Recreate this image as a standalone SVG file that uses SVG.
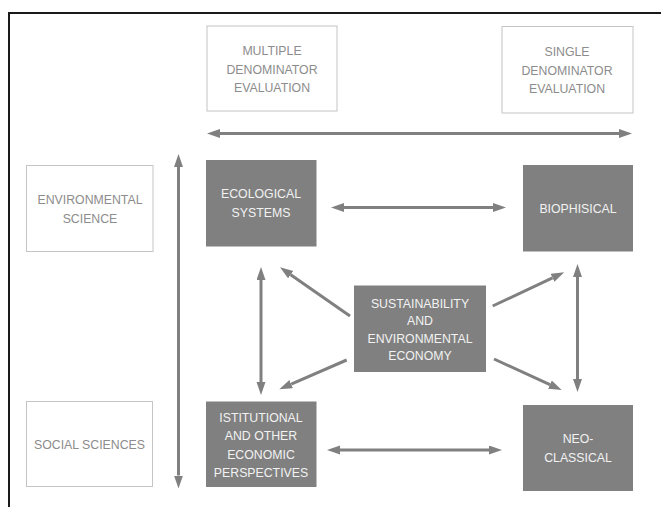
<svg xmlns="http://www.w3.org/2000/svg" width="661" height="507" viewBox="0 0 661 507">
<style>
  text { font-family: "Liberation Sans", Arial, sans-serif; font-size: 12.3px; text-anchor: middle; }
  .outline rect { fill: #ffffff; stroke: #c4c4c4; stroke-width: 1; }
  .outline text { fill: #8c8c8c; }
  .dark rect { fill: #808080; }
  .dark text { fill: #f2f2f2; }
  .conn line { stroke: #808080; stroke-width: 3; fill: none; marker-start: url(#ah); marker-end: url(#ah); }
  .conn line.one { marker-start: none; }
</style>
<defs>
  <marker id="ah" markerUnits="userSpaceOnUse" markerWidth="14" markerHeight="10" refX="0" refY="4.5" orient="auto-start-reverse">
    <path d="M0,0 L13,4.5 L0,9 z" fill="#808080"/>
  </marker>
</defs>
<rect x="0" y="0" width="661" height="507" fill="#ffffff"/>
<path d="M9,507 V13 H661" fill="none" stroke="#1a1a1a" stroke-width="2"/>

<g id="multiple" class="outline">
  <rect x="207" y="26" width="130" height="85"/>
  <text x="272" y="54.5">MULTIPLE</text>
  <text x="272" y="73.5">DENOMINATOR</text>
  <text x="272" y="92">EVALUATION</text>
</g>
<g id="single" class="outline">
  <rect x="502" y="26.5" width="131" height="86.5"/>
  <text x="567" y="56">SINGLE</text>
  <text x="567" y="74.5">DENOMINATOR</text>
  <text x="567" y="92.5">EVALUATION</text>
</g>
<g id="envscience" class="outline">
  <rect x="26.5" y="165.5" width="126.5" height="86"/>
  <text x="90" y="203.5">ENVIRONMENTAL</text>
  <text x="90" y="222.5">SCIENCE</text>
</g>
<g id="socsciences" class="outline">
  <rect x="26.5" y="401.5" width="126" height="85"/>
  <text x="89.5" y="448.5">SOCIAL SCIENCES</text>
</g>

<g id="ecological" class="dark">
  <rect x="206" y="160" width="110.5" height="86.5"/>
  <text x="261" y="198.3">ECOLOGICAL</text>
  <text x="261" y="217">SYSTEMS</text>
</g>
<g id="biophisical" class="dark">
  <rect x="523" y="165" width="110" height="86.5"/>
  <text x="578" y="212.5">BIOPHISICAL</text>
</g>
<g id="sustainability" class="dark">
  <rect x="354" y="285.5" width="132" height="86.5"/>
  <text x="420" y="307.6">SUSTAINABILITY</text>
  <text x="420" y="325">AND</text>
  <text x="420" y="342.6">ENVIRONMENTAL</text>
  <text x="420" y="360.3">ECONOMY</text>
</g>
<g id="istitutional" class="dark">
  <rect x="206" y="401.5" width="110.5" height="85.5"/>
  <text x="261" y="421.6">ISTITUTIONAL</text>
  <text x="261" y="440.3">AND OTHER</text>
  <text x="261" y="458.6">ECONOMIC</text>
  <text x="261" y="476.6">PERSPECTIVES</text>
</g>
<g id="neoclassical" class="dark">
  <rect x="523" y="405" width="110" height="86"/>
  <text x="578" y="443.3">NEO-</text>
  <text x="578" y="461.8">CLASSICAL</text>
</g>

<g id="connectors" class="conn">
  <line x1="220" y1="133.5" x2="619" y2="133.5"/>
  <line x1="178.5" y1="167" x2="178.5" y2="475.5"/>
  <line x1="344" y1="207.5" x2="493" y2="207.5"/>
  <line x1="340" y1="450" x2="489" y2="450"/>
  <line x1="261" y1="280" x2="261" y2="382"/>
  <line x1="577.5" y1="277" x2="577.5" y2="379"/>
  <line class="one" x1="350" y1="316" x2="290.7" y2="274.7"/>
  <line class="one" x1="346.7" y1="360" x2="291.2" y2="384.1"/>
  <line class="one" x1="492.7" y1="306" x2="552.5" y2="277.8"/>
  <line class="one" x1="494" y1="359" x2="549.9" y2="384.6"/>
</g>
</svg>
